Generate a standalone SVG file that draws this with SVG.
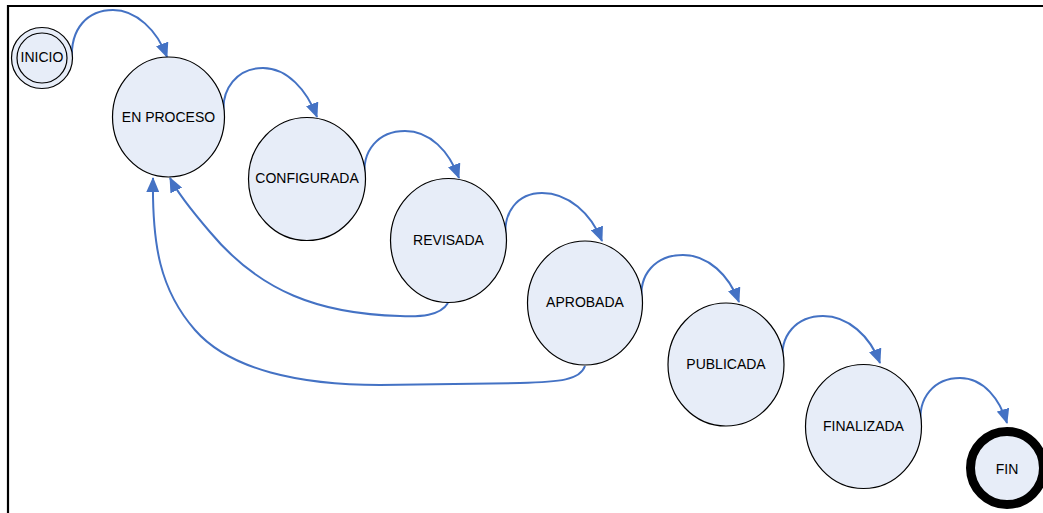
<svg xmlns="http://www.w3.org/2000/svg" width="1043" height="513" viewBox="0 0 1043 513">
<style>
.st{fill:#E7EDF8;stroke:#000;stroke-width:1.2}
.lbl{font-family:"Liberation Sans",Arial,sans-serif;font-size:14px;fill:#000;text-anchor:middle}
.c{fill:none;stroke:#4472C4;stroke-width:2}
</style>
<defs>
<marker id="ah" markerUnits="userSpaceOnUse" markerWidth="15" markerHeight="13" refX="14" refY="6.5" orient="auto" viewBox="0 0 15 13">
<path d="M0,0 L15,6.5 L0,13 z" fill="#4472C4"/>
</marker>
</defs>
<rect x="0" y="0" width="1043" height="513" fill="#fff"/>
<path d="M8,6 H1043 M8,5 V513" fill="none" stroke="#000" stroke-width="2.2"/>
<g id="connectors">
<path class="c" marker-end="url(#ah)" d="M72,60 C70,28 88,10 113,10 C136,10 157,30 167,57"/>
<path class="c" marker-end="url(#ah)" d="M224,117 C220,88 238,68 263,68 C287,68 307,90 317,117"/>
<path class="c" marker-end="url(#ah)" d="M365,179 C361,150 379,131 405,131 C430,131 449,151 459,178"/>
<path class="c" marker-end="url(#ah)" d="M506,240 C502,212 518,193 542,193 C568,193 591,213 602,241"/>
<path class="c" marker-end="url(#ah)" d="M642,302 C638,274 656,255 683,255 C708,255 729,275 739,302"/>
<path class="c" marker-end="url(#ah)" d="M783,363 C779,335 797,316 823,316 C848,316 870,336 880,363"/>
<path class="c" marker-end="url(#ah)" d="M921,426 C917,397 935,378 960,378 C984,378 1000,400 1007,423"/>
<path class="c" marker-end="url(#ah)" d="M448,303 C440,316 420,317 400,316 C320,314 260,292 210,232 C192,211 178,194 170,178"/>
<path class="c" marker-end="url(#ah)" d="M585,366 C580,380 560,382 520,383 L380,385 C300,385 230,370 195,330 C160,290 152,245 153,178"/>
</g>
<g id="inicio">
<circle class="st" cx="42" cy="58" r="30.5"/>
<circle cx="42" cy="58" r="25" fill="none" stroke="#000" stroke-width="1.2"/>
<text class="lbl" x="42" y="62">INICIO</text>
</g>
<g id="en_proceso">
<ellipse class="st" cx="168.5" cy="117" rx="56" ry="60"/>
<text class="lbl" x="168.5" y="122">EN PROCESO</text>
</g>
<g id="configurada">
<ellipse class="st" cx="307" cy="179" rx="58.5" ry="61.5"/>
<text class="lbl" x="307" y="183">CONFIGURADA</text>
</g>
<g id="revisada">
<ellipse class="st" cx="448.5" cy="240.5" rx="58" ry="62"/>
<text class="lbl" x="448.5" y="245">REVISADA</text>
</g>
<g id="aprobada">
<ellipse class="st" cx="585" cy="303" rx="57.5" ry="62"/>
<text class="lbl" x="585" y="307">APROBADA</text>
</g>
<g id="publicada">
<ellipse class="st" cx="726" cy="364.5" rx="58" ry="61.5"/>
<text class="lbl" x="726" y="369">PUBLICADA</text>
</g>
<g id="finalizada">
<ellipse class="st" cx="863.5" cy="426.5" rx="58" ry="62"/>
<text class="lbl" x="863.5" y="431">FINALIZADA</text>
</g>
<g id="fin">
<circle cx="1007" cy="468" r="36.5" fill="#E7EDF8" stroke="#000" stroke-width="9"/>
<text class="lbl" x="1007" y="474">FIN</text>
</g>
</svg>
